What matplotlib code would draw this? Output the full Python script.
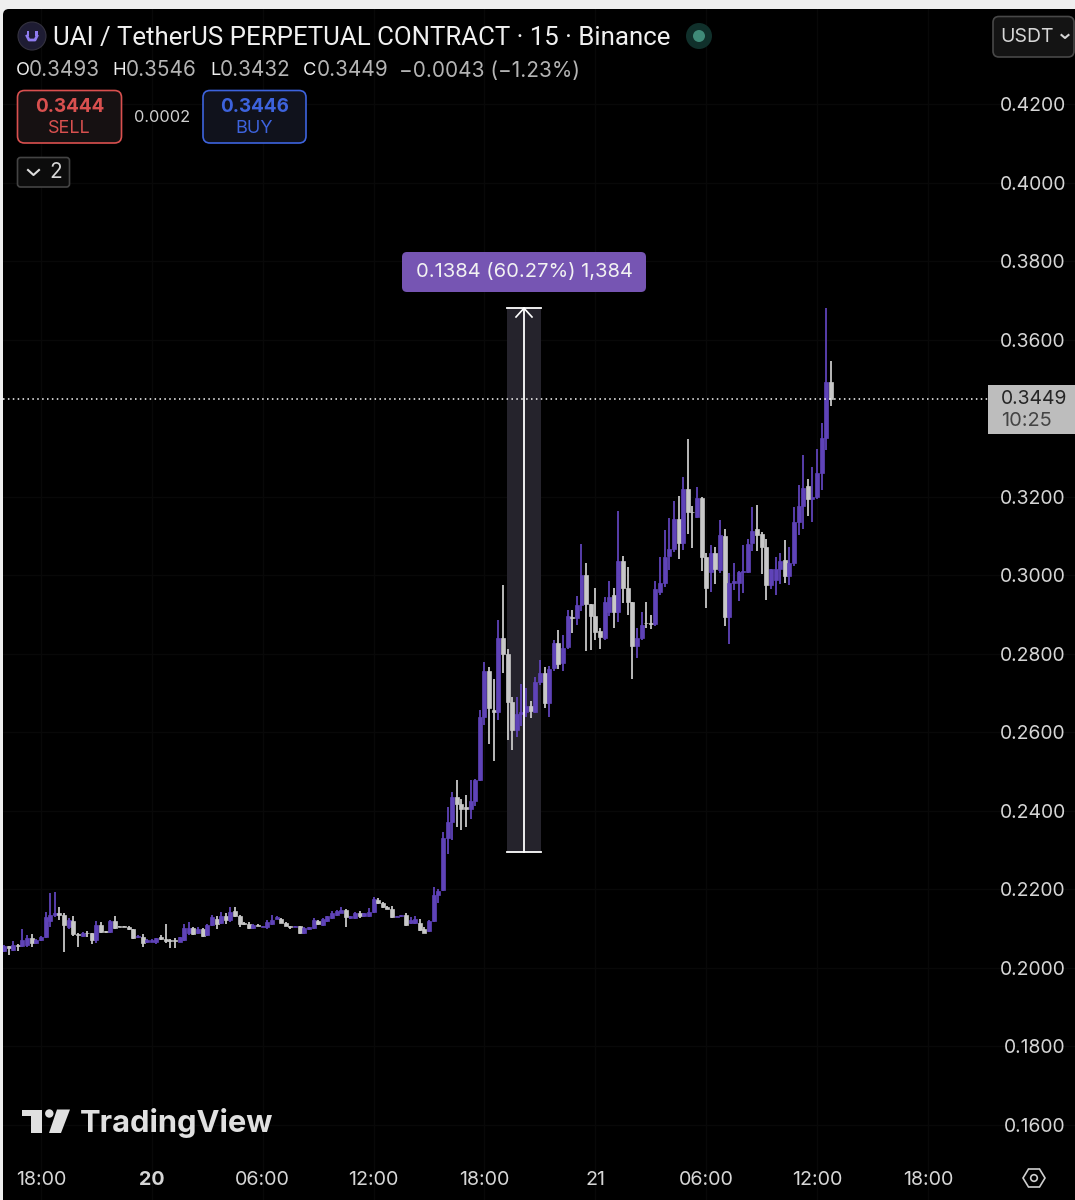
import matplotlib
matplotlib.use('Agg')
import matplotlib.pyplot as plt
from matplotlib.patches import FancyBboxPatch, Polygon, Circle, Rectangle

plt.rcParams['font.family'] = ['Inter', 'DejaVu Sans']

# 15 min candles, first bar is 19th 16:00
opens = [
    .2044, .2055, .2046, .2058, .2056, .2058, .2075, .2063, .2070, .2078,
    .2120, .2134, .2140, .2134, .2105, .2120, .2086, .2081, .2089, .2088,
    .2071, .2110, .2094, .2091, .2119, .2106, .2106, .2105, .2098, .2078,
    .2079, .2066, .2067, .2067, .2078, .2074, .2071, .2071, .2067, .2071,
    .2088, .2101, .2088, .2099, .2084, .2110, .2125, .2114, .2132, .2122,
    .2145, .2132, .2114, .2112, .2102, .2110, .2104, .2105, .2112, .2125,
    .2125, .2115, .2106, .2104, .2106, .2090, .2098, .2101, .2120, .2109,
    .2120, .2126, .2135, .2141, .2148, .2126, .2126, .2139, .2132, .2131,
    .2143, .2173, .2165, .2156, .2150, .2130, .2131, .2134, .2114, .2115,
    .2115, .2099, .2093, .2119, .2185, .2198, .2330, .2372, .2436, .2417,
    .2409, .2406, .2426, .2478, .2640, .2757, .2656, .2653, .2839, .2800,
    .2678, .2606, .2646, .2653, .2667, .2653, .2729, .2752, .2674, .2763,
    .2828, .2776, .2816, .2893, .2890, .2924, .3001, .2926, .2895, .2858,
    .2840, .2907, .2950, .2907, .3035, .2968, .2931, .2820, .2839, .2879,
    .2879, .2875, .2958, .2979, .3049, .3068, .3143, .3083, .3220, .3162,
    .3149, .3197, .3047, .3009, .3056, .3013, .3100, .2893, .2981, .2981,
    .3009, .3009, .3081, .3117, .3104, .3071, .2975, .2988, .3015, .3039,
    .2998, .3030, .3136, .3176, .3226, .3194, .3199, .3261, .3350, .3493,
]
highs = [
    .2058, .2056, .2069, .2061, .2098, .2084, .2087, .2073, .2081, .2143,
    .2191, .2193, .2156, .2140, .2127, .2131, .2090, .2092, .2095, .2090,
    .2120, .2116, .2095, .2122, .2132, .2107, .2107, .2108, .2099, .2083,
    .2086, .2073, .2074, .2076, .2083, .2112, .2073, .2075, .2080, .2112,
    .2116, .2103, .2103, .2101, .2112, .2134, .2131, .2143, .2139, .2156,
    .2156, .2135, .2116, .2118, .2112, .2111, .2108, .2122, .2134, .2131,
    .2127, .2116, .2107, .2107, .2107, .2105, .2105, .2126, .2122, .2126,
    .2133, .2144, .2148, .2156, .2150, .2133, .2143, .2144, .2141, .2153,
    .2181, .2177, .2167, .2158, .2158, .2133, .2135, .2139, .2129, .2131,
    .2124, .2103, .2122, .2207, .2201, .2347, .2409, .2447, .2478, .2430,
    .2440, .2478, .2482, .2658, .2779, .2767, .2736, .2886, .2975, .2813,
    .2690, .2690, .2724, .2712, .2680, .2741, .2785, .2767, .2770, .2835,
    .2860, .2847, .2911, .2911, .2947, .3080, .3030, .2928, .2967, .2865,
    .2945, .2985, .2968, .3164, .3050, .3020, .2931, .2866, .2906, .2932,
    .2898, .2985, .3047, .3114, .3146, .3190, .3201, .3250, .3348, .3176,
    .3225, .3199, .3057, .3076, .3071, .3140, .3118, .3006, .3032, .3012,
    .3077, .3093, .3173, .3178, .3110, .3093, .3017, .3047, .3056, .3090,
    .3071, .3174, .3230, .3305, .3244, .3275, .3322, .3387, .3680, .3546,
]
lows = [
    .2041, .2034, .2044, .2044, .2054, .2054, .2054, .2061, .2068, .2075,
    .2105, .2130, .2122, .2041, .2100, .2081, .2054, .2078, .2078, .2061,
    .2063, .2090, .2090, .2089, .2100, .2103, .2103, .2097, .2073, .2076,
    .2054, .2064, .2065, .2061, .2072, .2063, .2050, .2052, .2065, .2068,
    .2084, .2083, .2086, .2078, .2082, .2106, .2099, .2112, .2112, .2118,
    .2130, .2105, .2109, .2099, .2100, .2106, .2103, .2099, .2110, .2124,
    .2114, .2106, .2099, .2103, .2086, .2087, .2097, .2099, .2109, .2107,
    .2118, .2124, .2133, .2139, .2105, .2124, .2124, .2128, .2130, .2129,
    .2141, .2163, .2153, .2149, .2127, .2129, .2130, .2107, .2112, .2112,
    .2095, .2088, .2091, .2117, .2166, .2196, .2291, .2326, .2358, .2351,
    .2358, .2378, .2412, .2476, .2618, .2571, .2526, .2631, .2750, .2580,
    .2554, .2589, .2615, .2640, .2637, .2650, .2720, .2662, .2640, .2755,
    .2762, .2755, .2812, .2852, .2873, .2910, .2806, .2810, .2835, .2812,
    .2835, .2895, .2865, .2880, .2930, .2900, .2736, .2790, .2835, .2866,
    .2863, .2870, .2950, .2970, .3013, .3060, .3042, .3063, .3104, .3070,
    .3146, .3010, .2917, .2958, .2977, .3005, .2872, .2825, .2962, .2934,
    .2956, .3005, .3062, .3062, .3003, .2936, .2965, .2950, .2977, .2980,
    .2976, .3023, .3103, .3117, .3150, .3136, .3194, .3217, .3318, .3432,
]
closes = [
    .2056, .2052, .2059, .2056, .2071, .2075, .2063, .2071, .2078, .2129,
    .2135, .2140, .2134, .2109, .2122, .2086, .2083, .2088, .2088, .2071,
    .2110, .2092, .2092, .2119, .2102, .2104, .2104, .2098, .2075, .2081,
    .2064, .2071, .2072, .2075, .2074, .2069, .2069, .2069, .2078, .2101,
    .2101, .2087, .2098, .2081, .2110, .2129, .2112, .2131, .2122, .2143,
    .2132, .2112, .2111, .2101, .2110, .2107, .2107, .2118, .2122, .2129,
    .2115, .2107, .2104, .2106, .2090, .2102, .2103, .2122, .2111, .2124,
    .2131, .2141, .2145, .2148, .2129, .2131, .2139, .2132, .2139, .2143,
    .2175, .2165, .2155, .2150, .2129, .2132, .2134, .2109, .2122, .2124,
    .2097, .2090, .2119, .2185, .2197, .2330, .2372, .2436, .2417, .2406,
    .2406, .2426, .2478, .2640, .2757, .2661, .2653, .2839, .2800, .2678,
    .2606, .2646, .2653, .2667, .2655, .2729, .2752, .2674, .2760, .2828,
    .2774, .2814, .2895, .2890, .2924, .3001, .2926, .2895, .2856, .2844,
    .2933, .2945, .2907, .3035, .2968, .2931, .2820, .2839, .2873, .2878,
    .2875, .2965, .2981, .3047, .3068, .3143, .3083, .3220, .3162, .3160,
    .3196, .3047, .2968, .3056, .3015, .3102, .2893, .2981, .2986, .3009,
    .3012, .3079, .3113, .3102, .3071, .2975, .3017, .3015, .3037, .2998,
    .3030, .3136, .3176, .3221, .3194, .3199, .3261, .3350, .3493, .3449,
]

price_ticks = [0.42, 0.40, 0.38, 0.36, 0.32, 0.30, 0.28, 0.26, 0.24, 0.22, 0.20, 0.18, 0.16]
time_ticks = [8, 32, 56, 80, 104, 128, 152, 176, 200]
time_labels = ['18:00', '20', '06:00', '12:00', '18:00', '21', '06:00', '12:00', '18:00']
measure_low = 0.2296
measure_high = 0.3680
last_price = 0.3449

W, H = 1075, 1200
UP = '#5f43b8'
DOWN = '#c8c8c8'
TEXT = '#d6d6d6'

# pixel <-> data scale
BAR_PX = 4.62
PRICE_PX = 3927.0


def bar_x(px):
    return (px - 4) / BAR_PX


def price_y(py):
    return 0.42 - (py - 104) / PRICE_PX


fig = plt.figure(figsize=(W / 100, H / 100), dpi=100, facecolor='#efefef')
L, T = 3, 9
ax = fig.add_axes([L / W, 0, (W - L) / W, (H - T) / H], facecolor='black')
ax.set_xlim(bar_x(L), bar_x(W))
ax.set_ylim(price_y(H), price_y(T))
for s in ax.spines.values():
    s.set_visible(False)
ax.grid(True, color='#080808', lw=1)
ax.set_axisbelow(True)

ax.set_yticks(price_ticks)
ax.set_yticklabels(['%.4f' % p for p in price_ticks])
ax.yaxis.tick_right()
ax.tick_params(axis='y', length=0, pad=-6.5, labelsize=13.9, labelcolor=TEXT)
for lab in ax.get_yticklabels():
    lab.set_ha('right')

ax.set_xticks(time_ticks)
ax.set_xticklabels(time_labels)
ax.tick_params(axis='x', length=0, pad=-14.5, labelsize=14.2, labelcolor=TEXT)
for lab in ax.get_xticklabels():
    lab.set_va('center')
    if lab.get_text() == '20':
        lab.set_fontweight('bold')

# measure band under the candles
ax.add_patch(Rectangle((bar_x(507), measure_low), bar_x(541) - bar_x(507),
                       measure_high - measure_low, fc='#25232c', ec='none', zorder=2))

idx = list(range(len(closes)))
cols = [UP if c >= o else DOWN for o, c in zip(opens, closes)]
ax.vlines(idx, lows, highs, colors=cols, lw=1.3, zorder=3)
ax.bar(idx, [abs(c - o) for o, c in zip(opens, closes)],
       bottom=[min(o, c) for o, c in zip(opens, closes)],
       width=0.86, color=cols, edgecolor=cols, lw=0.5, zorder=4)

ax.plot([bar_x(L), bar_x(990)], [last_price, last_price], color='white', lw=1.1,
        ls=(0, (1, 2.2)), zorder=5)

# measure tool lines
mid = bar_x(524)
ax.plot([mid, mid], [measure_low, measure_high], color='white', lw=1.3, zorder=6)
ax.plot([bar_x(507), bar_x(541)], [measure_high, measure_high], color='white', lw=1.3, zorder=6)
ax.plot([bar_x(507), bar_x(541)], [measure_low, measure_low], color='white', lw=1.3, zorder=6)
ax.plot([bar_x(516), mid, bar_x(532)], [price_y(317), measure_high, price_y(317)],
        color='white', lw=1.2, zorder=6)

# overlay in pixels for the chart furniture
ui = fig.add_axes([0, 0, 1, 1], facecolor='none', zorder=5)
ui.set_xlim(0, W)
ui.set_ylim(H, 0)
ui.axis('off')


def box(x0, y0, x1, y1, fc, ec, r=5, lw=1.2):
    ui.add_patch(FancyBboxPatch((x0 + r, y0 + r), x1 - x0 - 2 * r, y1 - y0 - 2 * r,
                                boxstyle='round,pad=%d,rounding_size=%d' % (r, r),
                                fc=fc, ec=ec, lw=lw))


def txt(x, y, s, size=13.9, color=TEXT, ha='left', weight='normal', family=None):
    ui.text(x, y + 1.5, s, fontsize=size, color=color, ha=ha, va='center', fontweight=weight,
            family=family or ['Inter', 'DejaVu Sans'])


# rounded top left corner of the panel
ui.add_patch(Rectangle((3, 9), 8, 8, fc='#efefef', ec='none'))
box(3, 9, 19, 25, 'black', 'none', r=6, lw=0)

# symbol icon and title
ui.add_patch(Circle((32, 36), 14, fc='#1e1c33', ec='#34323f', lw=0.8))
ui.add_patch(Rectangle((26.5, 31), 2.5, 5, fc='#8f7cf0', ec='none'))
ui.add_patch(Rectangle((35, 31), 2.5, 5, fc='#8f7cf0', ec='none'))
ui.plot([27, 29, 35, 37], [36, 40, 40, 36], color='#8f7cf0', lw=2)
txt(53, 36, 'UAI / TetherUS PERPETUAL CONTRACT · 15 · Binance', size=18.6, color='#f0f0f0',
    family=['Roboto', 'DejaVu Sans'])
ui.add_patch(Circle((699, 36), 13, fc='#10302b', ec='none'))
ui.add_patch(Circle((699, 36), 6, fc='#3f8a78', ec='none'))

# ohlc row
for x, s in [(16, 'O'), (112, 'H'), (210, 'L'), (303, 'C')]:
    txt(x, 69, s, size=13.2, color='#f0f0f0')
for x, s in [(29, '0.3493'), (126, '0.3546'), (220, '0.3432'), (317, '0.3449')]:
    txt(x, 69, s, size=14.9, color='#b4b4b4')
txt(399, 69, '−0.0043 (−1.23%)', size=15, color='#b4b4b4')

# sell / buy
box(17.5, 90.5, 121.5, 143, '#161112', '#d9504f', r=7)
txt(69.5, 105.5, '0.3444', size=13.6, color='#d9504f', ha='center', weight='bold')
txt(69.5, 127, 'SELL', size=13, color='#d9504f', ha='center')
txt(162, 116, '0.0002', size=11.8, color='#d0d0d0', ha='center')
box(203, 90.5, 306, 143, '#10121c', '#3d63dd', r=7)
txt(254.5, 105.5, '0.3446', size=13.6, color='#3d63dd', ha='center', weight='bold')
txt(254.5, 127, 'BUY', size=13, color='#3d63dd', ha='center')

box(17.5, 157.5, 69.5, 187, '#0c0c0c', '#444444', r=3)
ui.plot([28, 33.5, 39], [170, 175, 170], color='#dddddd', lw=1.5)
txt(56, 171, '2', size=15, color='#d6d6d6', ha='center')

# currency button
box(993, 16.5, 1074, 57, '#141414', '#484848', r=6)
txt(1000, 36, 'USDT', size=14, color='#d6d6d6')
ui.plot([1061.5, 1065, 1068.5], [35, 38, 35], color='#d6d6d6', lw=1.5)

# measure label
box(402, 252, 646, 292, '#7655b3', 'none', r=5, lw=0)
txt(524, 271, '0.1384 (60.27%) 1,384', size=14.5, color='#f2f2f2', ha='center')

# last price box
ui.add_patch(Rectangle((988, 385), W - 988, 49, fc='#bdbdbd', ec='none'))
txt(1001, 397, '0.3449', size=13.9, color='#262626')
txt(1001, 420, '10:25', size=14.4, color='#444444')

# tradingview logo
ui.add_patch(Polygon([(22, 1109.5), (42, 1109.5), (42, 1133), (31, 1133), (31, 1116), (22, 1116)],
                     fc='#e0e0e0', ec='none'))
ui.add_patch(Circle((49.3, 1113.5), 4.2, fc='#e0e0e0', ec='none'))
ui.add_patch(Polygon([(57, 1109.5), (70, 1109.5), (61, 1133), (49, 1133)], fc='#e0e0e0', ec='none'))
txt(80, 1121, 'TradingView', size=22.2, color='#e0e0e0', weight='bold')

# settings hexagon
ui.add_patch(Polygon([(1023, 1178), (1028.5, 1169), (1039.5, 1169), (1045, 1178),
                      (1039.5, 1187), (1028.5, 1187)], fc='none', ec='#cfcfcf', lw=1.2))
ui.add_patch(Circle((1034, 1178), 3.3, fc='none', ec='#cfcfcf', lw=1.2))

fig.savefig('out.png', dpi=100, facecolor=fig.get_facecolor())
